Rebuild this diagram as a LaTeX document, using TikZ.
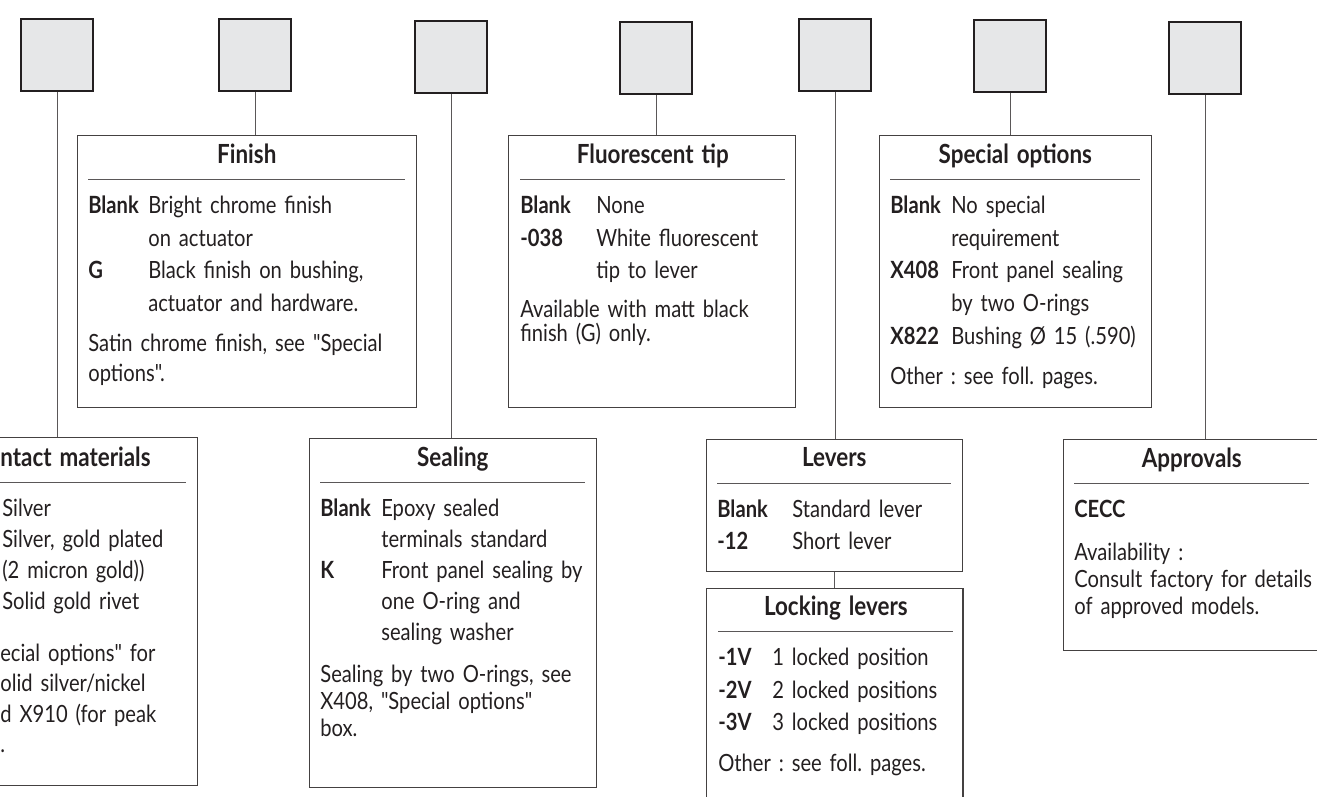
\documentclass[tikz,border=0pt]{standalone}
\usepackage{fontspec}
\setmainfont[FakeStretch=0.85, Ligatures=TeXOff]{Lato}
\usepackage{tikz}
\usetikzlibrary{positioning}
\usepackage{xcolor}
\definecolor{keygray}{RGB}{230,231,232}
\definecolor{inkgray}{RGB}{35,31,32}

\newlength\optcol
\newcommand\noteskip{15.5pt}
\newcommand\boxtitle[2][\centering]{{#1\fontsize{15}{15}\selectfont\bfseries\rule[-4pt]{0pt}{12pt}#2\par}%
  \vspace{5pt}{\color{inkgray!75}\hrule height 0.6pt}\vspace{9pt}}
\newcommand\opt[2]{\par\noindent\hangindent=\optcol\hangafter=1\rule[-4pt]{0pt}{11pt}%
  \makebox[\optcol][l]{\bfseries #1}{\let\\\newline #2}\par}
\newcommand\optnote[2][7.5pt]{\par\vspace{#1}{\noindent\fontsize{13.5}{\noteskip}\selectfont #2\par}}

\begin{document}
\begin{tikzpicture}[x=0.02cm, y=-0.02cm,
    keybox/.style={rectangle, draw=inkgray, line width=1.2pt, fill=keygray, minimum size=1.44cm, inner sep=0pt, anchor=north west},
    optframe/.style={rectangle, draw=inkgray!85, line width=0.6pt, inner sep=0pt, anchor=north west},
    opttext/.style={anchor=north west, inner sep=0pt, text=inkgray, font=\fontsize{13.5}{18.6}\selectfont,
        execute at begin node={\raggedright\frenchspacing\hyphenpenalty=10000}},
    link/.style={draw=inkgray!75, line width=0.6pt}]
        \useasboundingbox (0,0) rectangle (1317,796);
        \clip (0,0) rectangle (1317,796);

        % Code squares
        \node[keybox] (kcontact) at (20,18) {};
        \node[keybox] (kfinish) at (218,18) {};
        \node[keybox] (ksealing) at (414,20) {};
        \node[keybox] (kfluor) at (619,21) {};
        \node[keybox] (klevers) at (798,18) {};
        \node[keybox] (kspecial) at (973,19) {};
        \node[keybox] (kapproval) at (1168,21) {};

        % Option frames
        \node[optframe, minimum width=5.46cm, minimum height=6.96cm] (contact) at (-76,437) {};
        \node[optframe, minimum width=6.78cm, minimum height=5.44cm] (finish) at (77,135) {};
        \node[optframe, minimum width=5.74cm, minimum height=6.98cm] (sealing) at (309,438) {};
        \node[optframe, minimum width=5.74cm, minimum height=5.44cm] (fluor) at (508,135) {};
        \node[optframe, minimum width=5.12cm, minimum height=2.64cm] (levers) at (706,439) {};
        \node[optframe, minimum width=5.14cm, minimum height=4.86cm, below=0.32cm of levers] (locking) {};
        \node[optframe, minimum width=5.44cm, minimum height=5.44cm] (special) at (879,135) {};
        \node[optframe, minimum width=5.54cm, minimum height=4.22cm] (approval) at (1063,439) {};

        % Connectors
        \draw[link] (kcontact.south) -- (kcontact.south |- contact.north);
        \draw[link] (kfinish.south) -- (kfinish.south |- finish.north);
        \draw[link] (ksealing.south) -- (ksealing.south |- sealing.north);
        \draw[link] (kfluor.south) -- (kfluor.south |- fluor.north);
        \draw[link] (klevers.south) -- (klevers.south |- levers.north);
        \draw[link] (kspecial.south) -- (kspecial.south |- special.north);
        \draw[link] (kapproval.south) -- (kapproval.south |- approval.north);
        \draw[link] (levers.south) -- (locking.north);

        % Contact materials
        \node[opttext, text width=3.72cm, font=\fontsize{13.5}{17.6}\selectfont] (contacttxt) at (0,446.3) {%
            \setlength\optcol{0.04cm}\renewcommand\noteskip{17.3pt}%
            \boxtitle[\raggedright]{ntact materials}
            \opt{}{Silver}
            \opt{}{Silver, gold plated}
            \opt{}{(2 micron gold))}
            \opt{}{Solid gold rivet}
            \optnote[12.5pt]{ecial options" for\\olid silver/nickel\\d X910 (for peak\\.}
        };

        % Finish
        \node[opttext, text width=6.34cm] (finishtxt) at (88,143.3) {%
            \setlength\optcol{1.2cm}\renewcommand\noteskip{17pt}%
            \boxtitle{Finish}
            \opt{Blank}{Bright chrome finish\\on actuator}
            \opt{G}{Black finish on bushing,\\actuator and hardware.}
            \optnote[6pt]{Satin chrome finish, see "Special\\options".}
        };

        % Sealing
        \node[opttext, text width=5.3cm, font=\fontsize{13.5}{17.6}\selectfont] (sealingtxt) at (320,446.3) {%
            \setlength\optcol{1.22cm}%
            \boxtitle{Sealing}
            \opt{Blank}{Epoxy sealed\\terminals standard}
            \opt{K}{Front panel sealing by\\one O-ring and\\sealing washer}
            \optnote[8.5pt]{Sealing by two O-rings, see\\X408, "Special options"\\box.}
        };

        % Fluorescent tip
        \node[opttext, text width=5.3cm] (fluortxt) at (520,143.3) {%
            \setlength\optcol{1.52cm}\renewcommand\noteskip{14.2pt}%
            \boxtitle{Fluorescent tip}
            \opt{Blank}{None}
            \opt{-038}{White fluorescent\\tip to lever}
            \optnote{Available with matt black\\finish (G) only.}
        };

        % Levers
        \node[opttext, text width=4.68cm] (leverstxt) at (717,447.3) {%
            \setlength\optcol{1.5cm}%
            \boxtitle{Levers}
            \opt{Blank}{Standard lever}
            \opt{-12}{Short lever}
        };

        % Locking levers
        \node[opttext, text width=4.7cm] (lockingtxt) at (718,595.3) {%
            \setlength\optcol{1.08cm}%
            \boxtitle{Locking levers}
            \opt{-1V}{1 locked position}
            \opt{-2V}{2 locked positions}
            \opt{-3V}{3 locked positions}
            \optnote{Other : see foll. pages.}
        };

        % Special options
        \node[opttext, text width=5.0cm] (specialtxt) at (890,143.3) {%
            \setlength\optcol{1.22cm}%
            \boxtitle{Special options}
            \opt{Blank}{No special\\requirement}
            \opt{X408}{Front panel sealing\\by two O-rings}
            \opt{X822}{Bushing Ø 15 (.590)}
            \optnote{Other : see foll. pages.}
        };

        % Approvals
        \node[opttext, text width=4.7cm] (approvaltxt) at (1074,447.3) {%
            \setlength\optcol{1.2cm}%
            \boxtitle{Approvals}
            \opt{CECC}{}
            \optnote[9pt]{Availability :\\\mbox{Consult factory for details}\\of approved models.}
        };
\end{tikzpicture}
\end{document}
